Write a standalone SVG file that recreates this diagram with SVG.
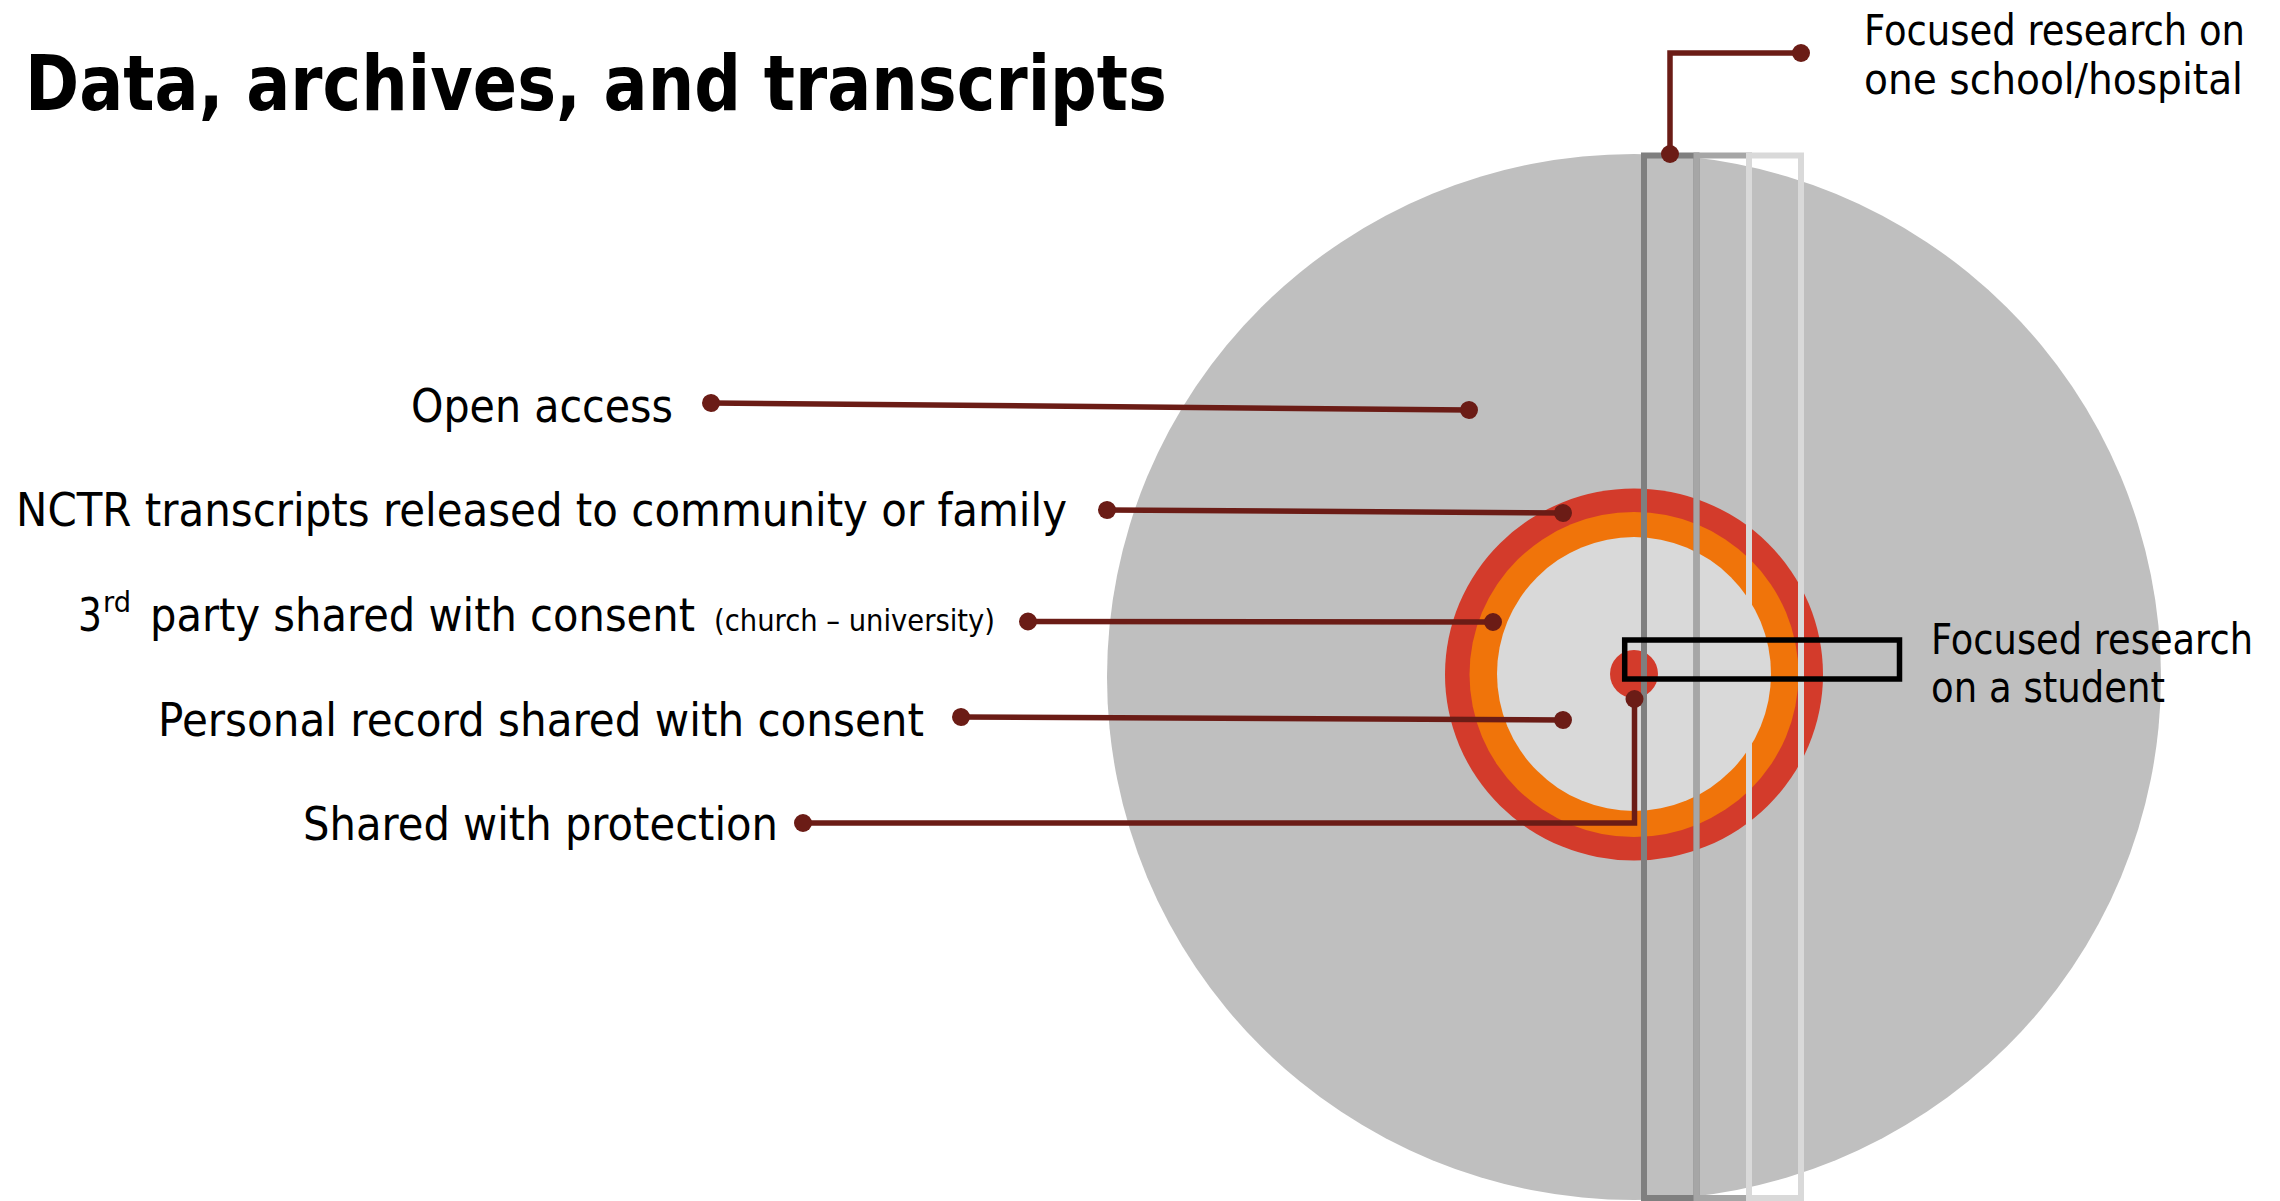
<svg xmlns="http://www.w3.org/2000/svg" width="2280" height="1201" viewBox="0 0 2280 1201">
  <style>
    .lbl { font-family: "DejaVu Sans", "Liberation Sans", sans-serif; fill: #000; }
    .big { font-size: 46px; }
    .side { font-size: 42px; }
    .small { font-size: 30px; }
    .sup { font-size: 28px; }
    .title { font-family: "DejaVu Sans", "Liberation Sans", sans-serif; font-size: 76px; font-weight: bold; fill: #000; }
    .conn { fill: none; stroke: #6b1c16; stroke-width: 5.5; marker-start: url(#dot); marker-end: url(#dot); }
    .band { fill: none; stroke-width: 6; }
  </style>
  <defs>
    <marker id="dot" markerUnits="userSpaceOnUse" markerWidth="20" markerHeight="20" refX="10" refY="10" orient="auto">
      <circle cx="10" cy="10" r="9" fill="#6b1c16"/>
    </marker>
  </defs>
  <rect width="2280" height="1201" fill="#ffffff"/>

  <g id="title">
    <text class="title" x="25" y="110" textLength="1142" lengthAdjust="spacingAndGlyphs">Data, archives, and transcripts</text>
  </g>

  <g id="open-access-circle">
    <ellipse cx="1634" cy="677" rx="527" ry="523" fill="#bfbfbf"/>
  </g>
  <g id="nctr-ring">
    <ellipse cx="1634" cy="674.5" rx="189" ry="186" fill="#d33b2b"/>
  </g>
  <g id="third-party-ring">
    <ellipse cx="1634" cy="674.5" rx="164.5" ry="162.5" fill="#f0740a"/>
  </g>
  <g id="personal-record-disc">
    <ellipse cx="1634" cy="674" rx="137" ry="137" fill="#d9d9d9"/>
  </g>
  <g id="protected-core">
    <circle cx="1634" cy="674" r="24" fill="#d33b2b"/>
  </g>

  <g id="school-hospital-bands">
    <rect class="band" x="1644" y="155.5" width="52.5" height="1042.5" stroke="#7f7f7f"/>
    <rect class="band" x="1696.5" y="155.5" width="52.5" height="1042.5" stroke="#a6a6a6"/>
    <rect class="band" x="1749" y="155.5" width="52" height="1042.5" stroke="#d9d9d9"/>
  </g>

  <g id="student-box">
    <rect x="1624.7" y="640" width="274.8" height="39" fill="none" stroke="#000" stroke-width="5.5"/>
  </g>

  <g id="connectors">
    <path class="conn" d="M711,403 L1469,410"/>
    <path class="conn" d="M1107,510 L1563,513"/>
    <path class="conn" d="M1028,621.5 L1493,622"/>
    <path class="conn" d="M961,717 L1563,720"/>
    <path class="conn" d="M803,823 L1634.5,823 L1634.5,699"/>
    <path class="conn" d="M1801,53 L1670,53 L1670,154"/>
  </g>

  <g id="label-open-access">
    <text class="lbl big" x="411" y="422" textLength="262" lengthAdjust="spacingAndGlyphs">Open access</text>
  </g>
  <g id="label-nctr">
    <text class="lbl big" x="16" y="526" textLength="1051" lengthAdjust="spacingAndGlyphs">NCTR transcripts released to community or family</text>
  </g>
  <g id="label-third-party">
    <text class="lbl big" x="78" y="631" textLength="24" lengthAdjust="spacingAndGlyphs">3</text>
    <text class="lbl sup" x="103" y="612" textLength="28" lengthAdjust="spacingAndGlyphs">rd</text>
    <text class="lbl big" x="150" y="631" textLength="545" lengthAdjust="spacingAndGlyphs">party shared with consent</text>
    <text class="lbl small" x="714" y="631" textLength="281" lengthAdjust="spacingAndGlyphs">(church – university)</text>
  </g>
  <g id="label-personal">
    <text class="lbl big" x="158" y="736" textLength="766" lengthAdjust="spacingAndGlyphs">Personal record shared with consent</text>
  </g>
  <g id="label-protection">
    <text class="lbl big" x="303" y="840" textLength="475" lengthAdjust="spacingAndGlyphs">Shared with protection</text>
  </g>
  <g id="label-school">
    <text class="lbl side" x="1864" y="45" textLength="381" lengthAdjust="spacingAndGlyphs">Focused research on</text>
    <text class="lbl side" x="1864" y="94" textLength="379" lengthAdjust="spacingAndGlyphs">one school/hospital</text>
  </g>
  <g id="label-student">
    <text class="lbl side" x="1931" y="654" textLength="322" lengthAdjust="spacingAndGlyphs">Focused research</text>
    <text class="lbl side" x="1931" y="702" textLength="234" lengthAdjust="spacingAndGlyphs">on a student</text>
  </g>
</svg>
